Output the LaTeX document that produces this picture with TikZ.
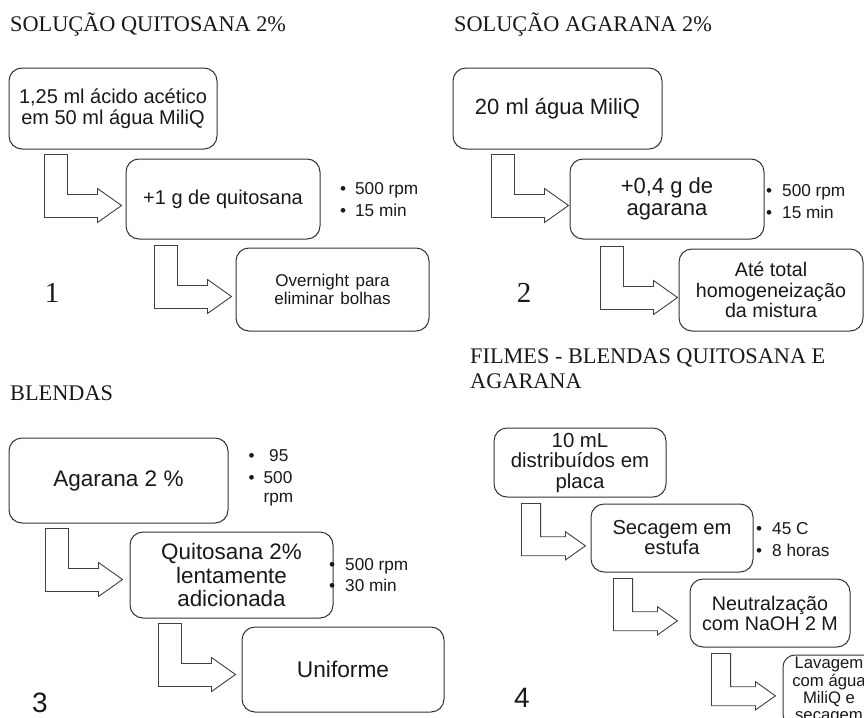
\documentclass[tikz,border=0pt]{standalone}
\usepackage{fontspec}
\setmainfont{Liberation Serif}
\newfontfamily\arialf{Liberation Sans}
\usetikzlibrary{calc}
\newcommand\fsz[2]{\fontsize{#1}{#2}\selectfont}
\begin{document}
\begin{tikzpicture}[x=1pt,y=-1pt,
  box/.style={draw=black!80, line width=1pt, rounded corners=13pt, fill=white,
    align=center, text=black!90, inner sep=2pt},
  arrowline/.style={draw=black!75, line width=0.9pt, fill=white, line join=miter},
  bentarrow/.pic={\path[arrowline] (0,0) -- (23,0) -- (23,40) -- (53,40) -- (53,34)
    -- (77,51) -- (53,68) -- (53,63) -- (0,63) -- cycle;},
  title/.style={font=\fsz{22.3}{25}, text=black!90, inner sep=0pt, align=left, anchor=base west},
  numserif/.style={font=\fsz{29}{30}, text=black!90, inner sep=0pt, anchor=base},
  numsans/.style={font=\arialf\fsz{28}{30}, text=black!90, inner sep=0pt, anchor=base},
  bul/.style={font=\arialf\fsz{17.2}{21.7}, inner sep=0pt, anchor=base west, text=black!90},
]
\useasboundingbox (0,0) rectangle (864,717);
\clip (0,0) rectangle (864,717);

% ---------- Panel 1 ----------
\node[title] (t1) at (10,32) {SOLUÇÃO QUITOSANA 2\%};
\node[box, minimum width=208, minimum height=81, font=\arialf\fsz{20}{20.5}] (A1) at (113,108.5)
  {1,25 ml ácido acético\\em 50 ml água MiliQ};
\node[box, minimum width=194, minimum height=80, font=\arialf\fsz{20}{21}] (B1) at (223,199)
  {+1 g de quitosana};
\node[box, minimum width=193, minimum height=83, font=\arialf\fsz{17}{17.7}] (C1) at (332.5,289.5)
  {Overnight\hspace{6.5pt}para\\eliminar\hspace{6.5pt}bolhas};
\pic at ($(A1.south west)+(36,5)$) {bentarrow};
\pic at ($(B1.south west)+(29,6)$) {bentarrow};
\node[bul] (b1a) at (340,194) {\makebox[15pt][l]{•}500 rpm};
\node[bul] (b1b) at (340,216) {\makebox[15pt][l]{•}15 min};
\node[numserif] (n1) at (52,302) {1};

% ---------- Panel 2 ----------
\node[title] (t2) at (454,32) {SOLUÇÃO AGARANA 2\%};
\node[box, minimum width=209, minimum height=81, font=\arialf\fsz{22}{23}] (A2) at (557.5,108.5)
  {20 ml água MiliQ};
\node[box, minimum width=194, minimum height=80, font=\arialf\fsz{22}{22.3}] (B2) at (667,199)
  {+0,4 g de\\agarana};
\node[box, minimum width=184, minimum height=82, font=\arialf\fsz{19.7}{20.5}] (C2) at (771,290)
  {Até total\\homogeneização\\da mistura};
\pic at ($(A2.south west)+(39,5)$) {bentarrow};
\pic at ($(B2.south west)+(31,7)$) {bentarrow};
\node[bul] (b2a) at (766,196.5) {\makebox[16pt][l]{•}500 rpm};
\node[bul] (b2b) at (766,218) {\makebox[16pt][l]{•}15 min};
\node[numserif] (n2) at (524,302) {2};

% ---------- Panel 3 ----------
\node[title] (t3) at (10,400) {BLENDAS};
\node[box, minimum width=219, minimum height=85, font=\arialf\fsz{22.5}{24}] (A3) at (118.5,480.5)
  {Agarana 2 \%};
\node[box, minimum width=203, minimum height=86, font=\arialf\fsz{22.4}{23.3}] (B3) at (231.5,575)
  {Quitosana 2\%\\lentamente\\adicionada};
\node[box, minimum width=202, minimum height=85, font=\arialf\fsz{22.7}{24}] (C3) at (343,669.5)
  {Uniforme};
\pic at ($(A3.south west)+(37,5)$) {bentarrow};
\pic at ($(B3.south west)+(29,5)$) {bentarrow};
\node[bul] (b3a) at (248.5,461) {\makebox[20.5pt][l]{•}95};
\node[bul] (b3b) at (248.5,483.5) {\makebox[15pt][l]{•}500};
\node[bul] (b3c) at (263.5,502) {rpm};
\node[bul] (b3d) at (329,570) {\makebox[16pt][l]{•}500 rpm};
\node[bul] (b3e) at (329,591.5) {\makebox[16pt][l]{•}30 min};
\node[numsans] (n3) at (40,712) {3};

% ---------- Panel 4 ----------
\node[title] (t4) at (470,388) {FILMES - BLENDAS QUITOSANA E\\AGARANA};
\node[box, minimum width=172, minimum height=69, font=\arialf\fsz{20.4}{20.5}] (A4) at (580,462.5)
  {10 mL\\distribuídos em\\placa};
\node[box, minimum width=162, minimum height=68, font=\arialf\fsz{20.2}{20}] (B4) at (672,538)
  {Secagem em\\estufa};
\node[box, minimum width=160, minimum height=68, font=\arialf\fsz{19.7}{20}] (C4) at (770,613)
  {Neutralzação\\com NaOH 2 M};
\node[box, minimum width=92, minimum height=71.4, inner sep=0pt, rounded corners=12pt,
  font=\arialf\fsz{16.7}{17.3}] (D4) at (829,690.7)
  {Lavagem\\com água\\MiliQ e\\secagem};
\pic[scale=0.83] at ($(A4.south west)+(28,6)$) {bentarrow};
\pic[scale=0.83] at ($(B4.south west)+(23,6)$) {bentarrow};
\pic[scale=0.83] at ($(C4.south west)+(22,6)$) {bentarrow};
\node[bul] (b4a) at (756,534) {\makebox[16pt][l]{•}45 C};
\node[bul] (b4b) at (756,556.5) {\makebox[16pt][l]{•}8 horas};
\node[numsans] (n4) at (522,707) {4};
\end{tikzpicture}
\end{document}
